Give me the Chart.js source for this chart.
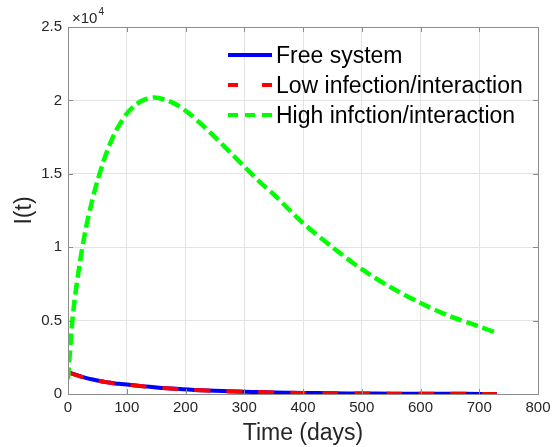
<!DOCTYPE html>
<html>
<head>
<meta charset="utf-8">
<script src="https://cdn.jsdelivr.net/npm/chart.js@4"></script>
<style>
  html, body { margin: 0; padding: 0; background: #fff; }
  #wrap { width: 557px; height: 447px; }
</style>
</head>
<body>
<div id="wrap"><canvas id="infected" width="557" height="447"></canvas></div>
<script>
// Time axis (days) and I(t) values
const tDays = [0, 5, 10, 20, 30, 40, 50, 60, 70, 80, 90, 100, 115, 130, 147, 165, 185, 205, 225, 250, 275, 300, 325, 350, 400, 450, 500, 550, 600, 650, 700, 730];
const freeSystem = [1500, 1420, 1350, 1220, 1100, 1000, 920, 850, 780, 720, 680, 640, 580, 520, 460, 400, 350, 300, 260, 220, 180, 150, 130, 110, 75, 50, 35, 25, 18, 12, 8, 6];
const lowInfection = [1480, 1410, 1340, 1210, 1090, 990, 910, 840, 775, 715, 675, 635, 575, 515, 455, 395, 345, 295, 255, 215, 178, 148, 128, 108, 74, 50, 35, 25, 18, 12, 8, 6];
const highInfection = [1000, 3800, 6000, 8900, 11200, 13000, 14500, 15800, 16900, 17800, 18500, 19100, 19700, 20050, 20200, 20050, 19700, 19150, 18450, 17500, 16500, 15500, 14500, 13600, 11650, 10000, 8500, 7250, 6200, 5300, 4600, 4150];
const seriesNames = ['Free system', 'Low infection/interaction', 'High infction/interaction'];
const xTicks = [0, 100, 200, 300, 400, 500, 600, 700, 800];
const yTicks = [0, 5000, 10000, 15000, 20000, 25000];

const toPoints = (vals) => vals.map((v, i) => ({ x: tDays[i], y: v }));

const FONT = 'Liberation Sans, Arial, Helvetica, sans-serif';
const AXIS_COLOR = '#8c8c8c';
const TEXT_COLOR = '#262626';

// box, inward ticks, exponent label and the in-plot legend
const matlabLook = {
  id: 'matlabLook',
  afterDraw(chart) {
    const ctx = chart.ctx;
    const a = chart.chartArea;
    const xs = chart.scales.x, ys = chart.scales.y;
    ctx.save();
    ctx.strokeStyle = AXIS_COLOR;
    ctx.lineWidth = 1;
    ctx.strokeRect(a.left + 0.5, a.top + 0.5, a.right - a.left, a.bottom - a.top);
    ctx.beginPath();
    xTicks.forEach(t => {
      const px = Math.round(xs.getPixelForValue(t)) + 0.5;
      ctx.moveTo(px, a.bottom); ctx.lineTo(px, a.bottom - 5);
      ctx.moveTo(px, a.top); ctx.lineTo(px, a.top + 5);
    });
    yTicks.forEach(t => {
      const py = Math.round(ys.getPixelForValue(t)) + 0.5;
      ctx.moveTo(a.left, py); ctx.lineTo(a.left + 5, py);
      ctx.moveTo(a.right, py); ctx.lineTo(a.right - 5, py);
    });
    ctx.stroke();

    // x10^4 exponent
    ctx.fillStyle = TEXT_COLOR;
    ctx.textBaseline = 'alphabetic';
    ctx.textAlign = 'left';
    ctx.font = '15px ' + FONT;
    const base = '\u00d710';
    ctx.fillText(base, a.left + 4, a.top - 4);
    const bw = ctx.measureText(base).width;
    ctx.font = '10px ' + FONT;
    ctx.fillText('4', a.left + 4 + bw + 1, a.top - 12);

    // legend
    const lx = 228, lw = 44, ly0 = 55, dy = 30;
    chart.data.datasets.forEach((ds, i) => {
      const y = ly0 + i * dy;
      ctx.strokeStyle = ds.borderColor;
      ctx.lineWidth = 4;
      ctx.setLineDash(ds.legendDash || []);
      ctx.beginPath();
      ctx.moveTo(lx, y); ctx.lineTo(lx + lw, y);
      ctx.stroke();
      ctx.setLineDash([]);
      ctx.fillStyle = '#000';
      ctx.font = '23px ' + FONT;
      ctx.textBaseline = 'middle';
      ctx.fillText(ds.label, lx + 48, y + 2);
    });
    ctx.restore();
  }
};

const ctxI = document.getElementById('infected').getContext('2d');
const infectedChart = new Chart(ctxI, {
  type: 'line',
  data: {
    datasets: [{
      label: seriesNames[0],
      data: toPoints(freeSystem),
      borderColor: '#0000ff',
      borderWidth: 4,
      legendDash: [],
      pointRadius: 0,
      tension: 0.3,
      order: 3
    }, {
      label: seriesNames[1],
      data: toPoints(lowInfection),
      borderColor: '#ff0000',
      borderWidth: 4,
      borderDash: [16, 16],
      legendDash: [10, 24],
      pointRadius: 0,
      tension: 0.3,
      order: 2
    }, {
      label: seriesNames[2],
      data: toPoints(highInfection),
      borderColor: '#00ff00',
      borderWidth: 4.5,
      borderDash: [12, 5],
      legendDash: [10, 7],
      pointRadius: 0,
      tension: 0.3,
      order: 1
    }]
  },
  options: {
    responsive: false,
    animation: false,
    layout: { padding: { left: 0, right: 19, top: 27, bottom: 0 } },
    plugins: {
      legend: { display: false },
      tooltip: { enabled: false }
    },
    scales: {
      x: {
        type: 'linear',
        min: 0,
        max: 800,
        afterBuildTicks: (s) => { s.ticks = xTicks.map(v => ({ value: v })); },
        afterFit: (s) => { s.height = 53; },
        grid: { color: '#e3e3e3', drawTicks: false },
        border: { display: false },
        ticks: { color: TEXT_COLOR, font: { family: FONT, size: 15 }, padding: 5, maxRotation: 0 },
        title: { display: true, text: 'Time (days)', color: TEXT_COLOR, font: { family: FONT, size: 23 }, padding: { top: 2, bottom: 0 } }
      },
      y: {
        min: 0,
        max: 25000,
        afterBuildTicks: (s) => { s.ticks = yTicks.map(v => ({ value: v })); },
        afterFit: (s) => { s.width = 68; },
        grid: { color: '#e3e3e3', drawTicks: false },
        border: { display: false },
        ticks: { color: TEXT_COLOR, font: { family: FONT, size: 15 }, padding: 6, callback: (v) => String(v / 10000) },
        title: { display: true, text: 'I(t)', color: TEXT_COLOR, font: { family: FONT, size: 23 }, padding: { top: 11, bottom: 0 } }
      }
    }
  },
  plugins: [matlabLook]
});
</script>
</body>
</html>
